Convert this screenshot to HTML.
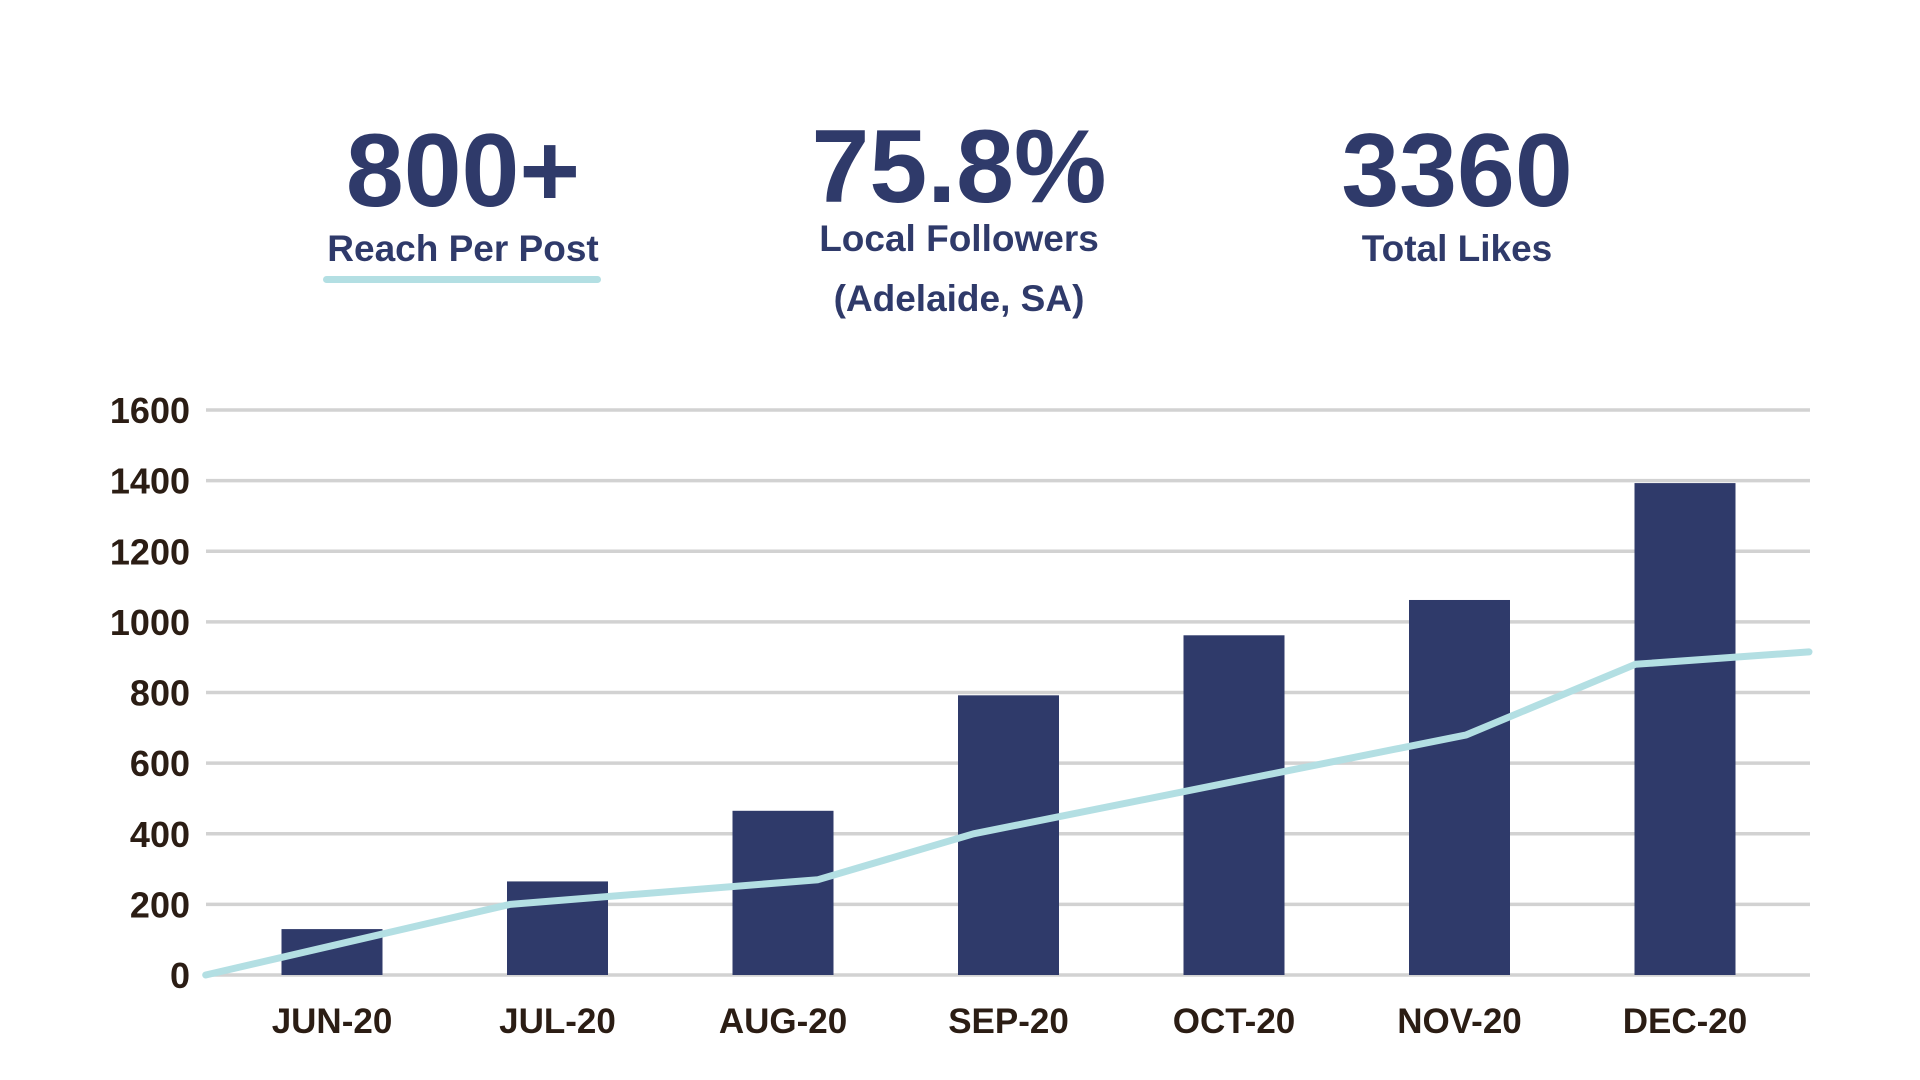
<!DOCTYPE html>
<html><head><meta charset="utf-8"><style>
html,body{margin:0;padding:0;background:#fff;}
svg{display:block;font-family:"Liberation Sans",sans-serif;}
</style></head><body>
<svg id="chart" width="1920" height="1080" viewBox="0 0 1920 1080">
<g fill="#2f3a6a" font-weight="bold" text-anchor="middle">
<text x="463" y="206" font-size="104">800+</text>
<text x="463" y="261" font-size="37">Reach Per Post</text>
<rect x="323" y="276" width="278" height="7" rx="3.5" fill="#b3dfe3"/>
<text x="959" y="202" font-size="104">75.8%</text>
<text x="959" y="251" font-size="37">Local Followers</text>
<text x="959" y="311" font-size="37">(Adelaide, SA)</text>
<text x="1457" y="206" font-size="104">3360</text>
<text x="1457" y="261" font-size="37">Total Likes</text>
</g>
<g id="grid"></g><g id="bars"></g><g id="line"></g><g id="ylab"></g><g id="xlab"></g>
</svg>
<script>
const categories = ["JUN-20","JUL-20","AUG-20","SEP-20","OCT-20","NOV-20","DEC-20"];
const barValues = [130, 265, 465, 792, 962, 1062, 1393];
const yTicks = [0,200,400,600,800,1000,1200,1400,1600];
const lineCategoryPos = [-0.56, 0.79, 2.155, 2.845, 5.03, 5.78, 6.55];
const lineValues = [0, 200, 270, 400, 680, 880, 915];

const NS="http://www.w3.org/2000/svg";
const X0=206, X1=1810, Y0=975, Y1=410, YMAX=1600;
const firstCenter=332, step=225.5, barW=101;
function y(v){return Y0-(v/YMAX)*(Y0-Y1);}
function xc(i){return firstCenter+step*i;}
function mk(tag,attrs,parent){const e=document.createElementNS(NS,tag);for(const k in attrs)e.setAttribute(k,attrs[k]);document.getElementById(parent).appendChild(e);return e;}

yTicks.forEach(t=>{
  const g=mk("line",{x1:X0,x2:X1,y1:y(t),y2:y(t),stroke:"#d2d2d2","stroke-width":3.5},"grid");
  
  
  const l=mk("text",{x:190,y:y(t)+13,"text-anchor":"end","font-size":36,"font-weight":"bold",fill:"#2b1d14"},"ylab");
  l.textContent=t;
  
  
});
barValues.forEach((v,i)=>{
  const r=mk("rect",{x:xc(i)-barW/2,y:y(v),width:barW,height:Y0-y(v),fill:"#2f3a6a"},"bars");
  
  
  const t=mk("text",{x:xc(i),y:1033,"text-anchor":"middle","font-size":35,"font-weight":"bold",fill:"#2b1d14"},"xlab");
  t.textContent=categories[i];
  
  
});
const pts=lineValues.map((v,i)=>xc(lineCategoryPos[i]).toFixed(1)+","+y(v).toFixed(1)).join(" ");
const pl=mk("polyline",{points:pts,fill:"none",stroke:"#b3dfe3","stroke-width":7,"stroke-linejoin":"round","stroke-linecap":"round"},"line");


</script>
</body></html>
